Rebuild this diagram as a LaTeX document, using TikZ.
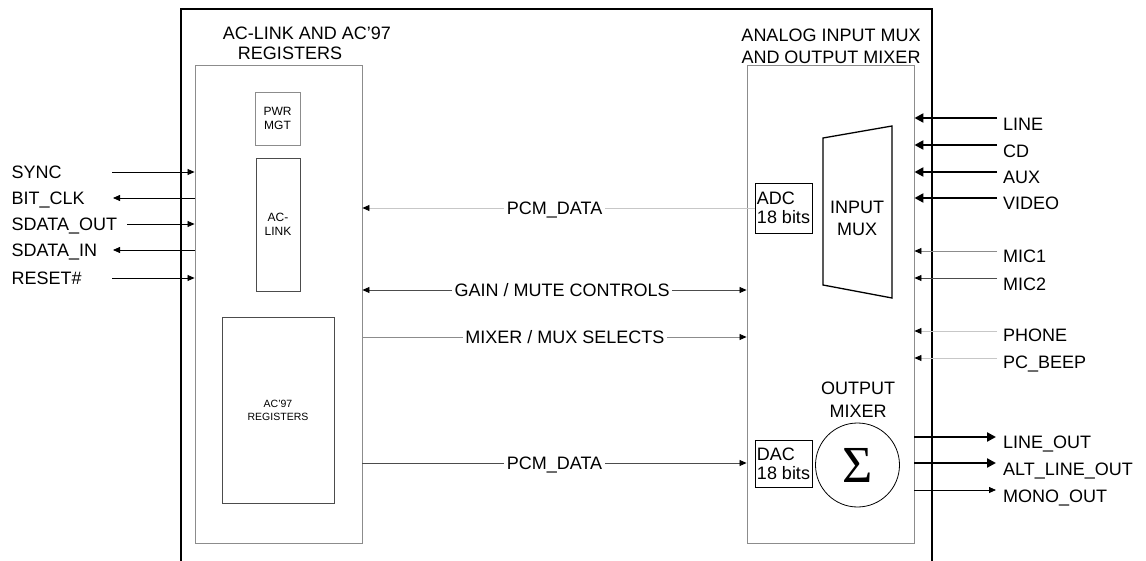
\documentclass[tikz,border=0pt]{standalone}
\usepackage{fontspec}
\setmainfont{Liberation Sans}
\newfontfamily\sigfont{Liberation Serif}
\usetikzlibrary{arrows.meta}
\definecolor{lgray}{gray}{0.78}
\definecolor{mgray}{gray}{0.55}
\definecolor{dgray}{gray}{0.3}
\begin{document}
\begin{tikzpicture}[x=1pt,y=-1pt,
  lbl/.style={font=\fontsize{18}{20}\selectfont, inner sep=0pt, text height=12.9pt, text depth=0pt},
  midlbl/.style={lbl, fill=white, inner xsep=2.5pt},
  ttl/.style={font=\fontsize{18}{22}\selectfont, inner sep=0pt, align=center},
  box/.style={draw=mgray, line width=0.9pt, inner sep=0pt},
  smallbox/.style={draw=mgray, line width=0.8pt, inner sep=0pt, align=center},
  conv/.style={draw=black, line width=0.7pt, inner sep=0pt, align=left, font=\fontsize{18}{19}\selectfont},
  arr/.style={line width=0.8pt, -{Triangle[length=7pt,width=6pt,color=black]}},
  darr/.style={line width=0.8pt, {Triangle[length=7pt,width=6pt,color=black]}-{Triangle[length=7pt,width=6pt,color=black]}},
  thk/.style={line width=2.8pt, -{Triangle[length=9pt,width=9pt]}}
]
\useasboundingbox (0,0) rectangle (1146,561);

% outer chip outline
\draw[line width=1.6pt] (181,561) -- (181,9) -- (932,9) -- (932,561);

% titles
\node[ttl] (ttlA) at (307,33) {AC-LINK AND AC’97};
\node[ttl] (ttlB) at (290,53) {REGISTERS};
\node[ttl] (ttlC) at (831,46) {ANALOG INPUT MUX\\AND OUTPUT MIXER};

% inner blocks
\node[box, minimum width=167pt, minimum height=478pt] (lbox) at (278.5,304) {};
\node[box, minimum width=167pt, minimum height=478pt] (rbox) at (830.5,304) {};

\node[smallbox, minimum width=45pt, minimum height=53pt, font=\fontsize{12}{14}\selectfont] (pwr) at (277.5,118.5) {PWR\\MGT};
\node[smallbox, draw=dgray, minimum width=44pt, minimum height=133pt, font=\fontsize{12}{13.5}\selectfont] (aclink) at (278,224.5) {AC-\\LINK};
\node[smallbox, draw=dgray, minimum width=112pt, minimum height=186pt, font=\fontsize{10.5}{13}\selectfont] (regs) at (278,410) {AC’97\\REGISTERS};

% ADC / DAC
\node[conv, minimum width=57pt, minimum height=50pt] (adc) at (783.5,208) {ADC\\18 bits};
\node[conv, minimum width=57pt, minimum height=47pt] (dac) at (783.5,464) {DAC\\18 bits};

% input mux
\coordinate (m1) at (823,138);
\coordinate (m2) at (892,126);
\coordinate (m3) at (892,298);
\coordinate (m4) at (823,285);
\draw[line width=1.3pt] (m1) -- (m2) -- (m3) -- (m4) -- cycle;
\node[ttl] (muxlbl) at (857,218) {INPUT\\MUX};

% output mixer
\node[ttl, font=\fontsize{18}{23}\selectfont] (mixlbl) at (858,400) {OUTPUT\\MIXER};
\node[draw=black, line width=0.8pt, circle, minimum size=84pt, inner sep=0pt, font=\sigfont\fontsize{52}{52}\selectfont] (sum) at (857.5,465) {Σ};

% left serial interface
\node[lbl, anchor=west] (sync) at (11.5,172) {SYNC};
\node[lbl, anchor=west] (bclk) at (11.5,198) {BIT\_CLK};
\node[lbl, anchor=west] (sdo) at (11.5,224) {SDATA\_OUT};
\node[lbl, anchor=west] (sdi) at (11.5,250) {SDATA\_IN};
\node[lbl, anchor=west] (rst) at (11.5,278) {RESET\#};
\coordinate (csync) at (112,172);
\coordinate (cbclk) at (113,198);
\coordinate (csdo) at (127,224);
\coordinate (csdi) at (113,250);
\coordinate (crst) at (112,278);
\draw[arr] (csync) -- (csync -| lbox.west);
\draw[arr] (cbclk -| lbox.west) -- (cbclk);
\draw[arr] (csdo) -- (csdo -| lbox.west);
\draw[arr] (csdi -| lbox.west) -- (csdi);
\draw[arr] (crst) -- (crst -| lbox.west);

% internal buses
\coordinate (ygain) at (0,290);
\coordinate (ymix) at (0,337);
\coordinate (ypcm) at (0,463);
\draw[arr, draw=lgray] (adc.west) -- node[midlbl, pos=0.51] {PCM\_DATA} (adc.west -| lbox.east);
\draw[darr, draw=dgray] (lbox.east |- ygain) -- node[midlbl, pos=0.52] {GAIN / MUTE CONTROLS} (rbox.west |- ygain);
\draw[arr, draw=mgray] (lbox.east |- ymix) -- node[midlbl, pos=0.527] {MIXER / MUX SELECTS} (rbox.west |- ymix);
\draw[arr, draw=dgray] (lbox.east |- ypcm) -- node[midlbl, pos=0.5] {PCM\_DATA} (rbox.west |- ypcm);

% analog inputs
\coordinate (iline) at (997,118);
\coordinate (icd) at (997,145);
\coordinate (iaux) at (997,172);
\coordinate (ivid) at (997,198);
\coordinate (imic1) at (997,251);
\coordinate (imic2) at (997,278);
\coordinate (iphone) at (997,331);
\coordinate (ibeep) at (997,358);
\draw[thk] (iline) -- (iline -| rbox.east);
\draw[thk] (icd) -- (icd -| rbox.east);
\draw[thk] (iaux) -- (iaux -| rbox.east);
\draw[thk] (ivid) -- (ivid -| rbox.east);
\draw[arr, draw=mgray] (imic1) -- (imic1 -| rbox.east);
\draw[arr, draw=dgray] (imic2) -- (imic2 -| rbox.east);
\draw[arr, draw=lgray] (iphone) -- (iphone -| rbox.east);
\draw[arr, draw=lgray] (ibeep) -- (ibeep -| rbox.east);
\node[lbl, anchor=west] (lline) at (1003,124) {LINE};
\node[lbl, anchor=west] (lcd) at (1003,151) {CD};
\node[lbl, anchor=west] (laux) at (1003,177) {AUX};
\node[lbl, anchor=west] (lvid) at (1003,203) {VIDEO};
\node[lbl, anchor=west] (lmic1) at (1003,256) {MIC1};
\node[lbl, anchor=west] (lmic2) at (1003,284) {MIC2};
\node[lbl, anchor=west] (lphone) at (1003,335) {PHONE};
\node[lbl, anchor=west] (lbeep) at (1003,362) {PC\_BEEP};

% analog outputs
\coordinate (olo) at (996,437);
\coordinate (oalt) at (996,463);
\coordinate (omono) at (996,490);
\draw[thk] (olo -| rbox.east) -- (olo);
\draw[thk] (oalt -| rbox.east) -- (oalt);
\draw[arr] (omono -| rbox.east) -- (omono);
\node[lbl, anchor=west] (llo) at (1003,442) {LINE\_OUT};
\node[lbl, anchor=west] (lalt) at (1003,469) {ALT\_LINE\_OUT};
\node[lbl, anchor=west] (lmono) at (1003,496) {MONO\_OUT};
\end{tikzpicture}
\end{document}
